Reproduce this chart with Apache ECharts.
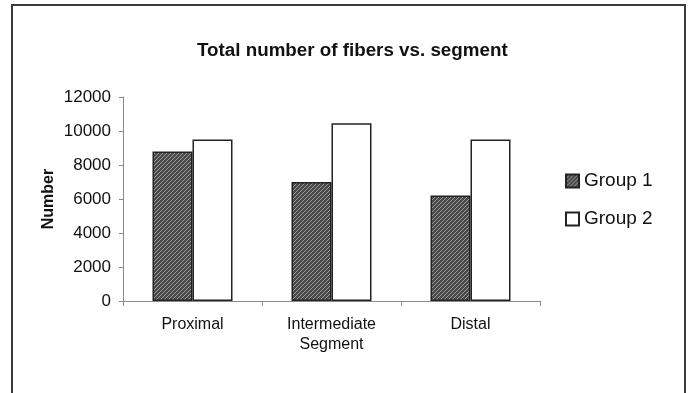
<!DOCTYPE html>
<html>
<head>
<meta charset="utf-8">
<script src="https://cdn.jsdelivr.net/npm/echarts@6/dist/echarts.min.js"></script>
<style>
  html, body { margin: 0; padding: 0; background: #fff; }
  #chart { width: 693px; height: 393px; }
</style>
</head>
<body>
<div id="chart"></div>
<script>
// Fiber counts per nerve segment
const segments = ['Proximal', 'Intermediate\nSegment', 'Distal'];
const group1 = [8800, 7000, 6200];
const group2 = [9500, 10450, 9500];
const yTicks = { min: 0, max: 12000, step: 2000 };

// Dark diagonal hatch used for the first group
function hatchPattern() {
  const c = document.createElement('canvas');
  c.width = 4; c.height = 4;
  const g = c.getContext('2d');
  g.fillStyle = '#4a4a4a';
  g.fillRect(0, 0, 4, 4);
  g.strokeStyle = '#9c9c9c';
  g.lineWidth = 1;
  g.beginPath();
  g.moveTo(0, 4); g.lineTo(4, 0);
  g.moveTo(-1, 1); g.lineTo(1, -1);
  g.moveTo(3, 5); g.lineTo(5, 3);
  g.stroke();
  return c;
}

const chart = echarts.init(document.getElementById('chart'), null, { renderer: 'canvas' });
const font = 'Liberation Sans, Arial, sans-serif';

chart.setOption({
  backgroundColor: '#fff',
  animation: false,
  title: {
    text: 'Total number of fibers vs. segment',
    left: 192,
    top: 36,
    textStyle: { fontFamily: font, fontSize: 18.8, fontWeight: 'bold', color: '#111' }
  },
  legend: {
    orient: 'vertical',
    left: 565,
    top: 171,
    padding: 0,
    itemWidth: 13,
    itemHeight: 13,
    itemGap: 18,
    icon: 'rect',
    textStyle: { fontFamily: font, fontSize: 19, color: '#111', lineHeight: 20 }
  },
  grid: { left: 123, right: 153, top: 97, bottom: 92 },
  xAxis: {
    type: 'category',
    data: segments,
    axisLine: { lineStyle: { color: '#8a8a8a', width: 1 } },
    axisTick: { show: true, length: 5, alignWithLabel: false, lineStyle: { color: '#8a8a8a' } },
    axisLabel: { fontFamily: font, fontSize: 16, color: '#111', lineHeight: 20, margin: 14 }
  },
  yAxis: {
    type: 'value',
    min: yTicks.min,
    max: yTicks.max,
    interval: yTicks.step,
    name: 'Number',
    nameLocation: 'middle',
    nameRotate: 90,
    nameGap: 66,
    nameMoveOverlap: false,
    nameTextStyle: { fontFamily: font, fontSize: 16, fontWeight: 'bold', color: '#111' },
    axisLine: { show: true, lineStyle: { color: '#8a8a8a', width: 1 } },
    axisTick: { show: true, length: 4, lineStyle: { color: '#8a8a8a' } },
    axisLabel: { fontFamily: font, fontSize: 17, color: '#111', margin: 12, formatter: v => String(v) },
    splitLine: { show: false }
  },
  series: [
    {
      name: 'Group 1',
      type: 'bar',
      data: group1,
      barWidth: 40,
      barGap: '0%',
      itemStyle: { color: { image: hatchPattern(), repeat: 'repeat' }, borderColor: '#222', borderWidth: 1.5 }
    },
    {
      name: 'Group 2',
      type: 'bar',
      data: group2,
      barWidth: 40,
      barGap: '0%',
      itemStyle: { color: '#ffffff', borderColor: '#222', borderWidth: 1.5 }
    }
  ],
  graphic: [
    {
      type: 'rect',
      shape: { x: 12, y: 5, width: 673, height: 400 },
      style: { fill: null, stroke: '#3a3a3a', lineWidth: 2 },
      silent: true
    }
  ]
});
</script>
</body>
</html>
